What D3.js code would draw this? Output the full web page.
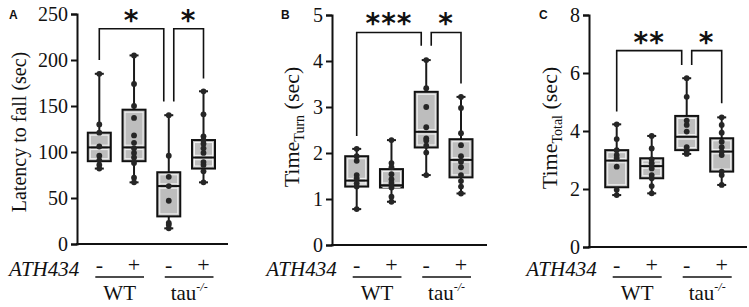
<!DOCTYPE html>
<html>
<head>
<meta charset="utf-8">
<script src="https://cdn.jsdelivr.net/npm/d3@7"></script>
<style>
  body { margin: 0; background: #fff; }
</style>
</head>
<body>
<script>
let width = 749;
let height = 307;
let serif = "'Liberation Serif', 'Times New Roman', serif";

// groups along the x axis
let treatment = ["-", "+", "-", "+"];
let genotype = ["WT", "tau"];

// panel A: latency to fall (sec)
let latencyTicks = [0, 50, 100, 150, 200, 250];
let latencyBox = [  // min, q1, median, q3, max
  [82, 90, 105, 121, 185],
  [67, 90, 105, 146, 205],
  [17, 30, 63, 78, 140],
  [67, 82, 94, 113, 166]
];
let latencyPoints = [
  [185, 130, 121, 106, 96, 91, 86, 82],
  [205, 174, 150, 137, 118, 110, 104, 99, 94, 88, 72, 67],
  [140, 96, 73, 63, 47, 23, 21, 17],
  [166, 141, 117, 113, 109, 104, 99, 89, 86, 79, 67]
];
let latencySig = ["*", "*"];

// panel B: time turn (sec)
let turnTicks = [0, 1, 2, 3, 4, 5];
let turnBox = [
  [0.78, 1.27, 1.40, 1.93, 2.09],
  [0.94, 1.25, 1.30, 1.65, 2.28],
  [1.52, 2.12, 2.46, 3.33, 4.02],
  [1.12, 1.47, 1.85, 2.30, 3.22]
];
let turnPoints = [
  [2.09, 1.93, 1.83, 1.52, 1.45, 1.34, 1.27, 0.78],
  [2.28, 1.78, 1.69, 1.54, 1.43, 1.35, 1.25, 1.05, 0.94],
  [4.02, 3.41, 3.00, 2.56, 2.32, 2.27, 2.16, 2.01, 1.52],
  [3.22, 2.98, 2.43, 2.17, 1.93, 1.81, 1.69, 1.52, 1.39, 1.27, 1.12]
];
let turnSig = ["***", "*"];

// panel C: time total (sec)
let totalTicks = [0, 2, 4, 6, 8];
let totalBox = [
  [1.79, 2.06, 2.98, 3.34, 4.23],
  [1.85, 2.37, 2.79, 3.06, 3.83],
  [3.21, 3.34, 3.80, 4.52, 5.82],
  [2.14, 2.60, 3.29, 3.75, 4.47]
];
let totalPoints = [
  [4.23, 3.72, 3.34, 3.17, 3.06, 2.77, 1.97, 1.79],
  [3.83, 3.40, 3.02, 2.89, 2.71, 2.48, 2.37, 2.10, 1.85],
  [5.82, 5.18, 4.36, 4.21, 3.98, 3.44, 3.29, 3.21],
  [4.47, 4.21, 3.94, 3.63, 3.44, 3.29, 3.17, 2.60, 2.48, 2.14]
];
let totalSig = ["**", "*"];

// bracket heights in data units: [top, leg over group 1, legs over group 3, leg over group 4]
let latencyBracket = [234, 200, 155, 180];
let turnBracket = [4.62, 2.37, 4.33, 3.51];
let totalBracket = [6.77, 4.67, 6.28, 4.96];

let svg = d3.select("body").append("svg")
            .attr("width", width)
            .attr("height", height);

let panels = [
  { letter: "A", axisX: 77, axisEnd: 228, first: 99.3, last: 203.5, y0: 244, y1: 14,
    ticks: latencyTicks, box: latencyBox, points: latencyPoints, sig: latencySig, bracket: latencyBracket,
    label: ["Latency to fall (sec)"], labelX: 26, labelY: 132, letterX: 9 },
  { letter: "B", axisX: 332, axisEnd: 487, first: 356.7, last: 461, y0: 245, y1: 15,
    ticks: turnTicks, box: turnBox, points: turnPoints, sig: turnSig, bracket: turnBracket,
    label: ["Time", "Turn", " (sec)"], labelX: 299, labelY: 127, letterX: 281 },
  { letter: "C", axisX: 589, axisEnd: 747, first: 616.7, last: 721.7, y0: 247, y1: 15,
    ticks: totalTicks, box: totalBox, points: totalPoints, sig: totalSig, bracket: totalBracket,
    label: ["Time", "Total", " (sec)"], labelX: 557, labelY: 128, letterX: 539 }
];

panels.forEach(function(p) {
  let g = svg.append("g");
  let x = d3.scalePoint().domain(d3.range(4)).range([p.first, p.last]);
  let y = d3.scaleLinear()
            .domain([0, d3.max(p.ticks)])
            .range([p.y0, p.y1]);

  // y axis
  let yAxis = g.append("g")
               .attr("transform", "translate(" + p.axisX + ",0)")
               .call(d3.axisLeft(y).tickValues(p.ticks).tickSize(6).tickPadding(3).tickFormat(d3.format("d")));
  yAxis.select(".domain").attr("stroke", "#111").attr("stroke-width", 2);
  yAxis.selectAll(".tick line").attr("stroke", "#111").attr("stroke-width", 2);
  yAxis.selectAll(".tick text")
       .style("font-family", serif)
       .style("font-size", "20px")
       .attr("dy", "0.34em")
       .attr("fill", "#111");

  // x axis line
  g.append("line")
   .attr("x1", p.axisX - 1).attr("x2", p.axisEnd)
   .attr("y1", y(0)).attr("y2", y(0))
   .attr("stroke", "#111").attr("stroke-width", 2);

  let half = 11.5;

  // whiskers
  g.selectAll(".whisker").data(p.box).enter().append("line")
   .attr("x1", (d, i) => x(i)).attr("x2", (d, i) => x(i))
   .attr("y1", d => y(d[0])).attr("y2", d => y(d[4]))
   .attr("stroke", "#1a1a1a").attr("stroke-width", 2);
  [0, 4].forEach(function(k) {
    g.selectAll(".cap" + k).data(p.box).enter().append("line")
     .attr("x1", (d, i) => x(i) - 4.5).attr("x2", (d, i) => x(i) + 4.5)
     .attr("y1", d => y(d[k])).attr("y2", d => y(d[k]))
     .attr("stroke", "#1a1a1a").attr("stroke-width", 2);
  });

  // boxes
  g.selectAll(".box").data(p.box).enter().append("rect")
   .attr("x", (d, i) => x(i) - half)
   .attr("y", d => y(d[3]))
   .attr("width", half * 2)
   .attr("height", d => y(d[1]) - y(d[3]))
   .attr("fill", "#bdbdbd")
   .attr("stroke", "#111").attr("stroke-width", 2);
  g.selectAll(".inner").data(p.box).enter().append("rect")
   .attr("x", (d, i) => x(i) - half + 2.5)
   .attr("y", d => y(d[3]) + 2.5)
   .attr("width", half * 2 - 5)
   .attr("height", d => Math.max(0, y(d[1]) - y(d[3]) - 5))
   .attr("fill", "none")
   .attr("stroke", "#f4f4f4").attr("stroke-width", 1);
  [-2.2, 2.2].forEach(function(off) {
    g.selectAll(".medw").data(p.box).enter().append("line")
     .attr("x1", (d, i) => x(i) - half + 2.5).attr("x2", (d, i) => x(i) + half - 2.5)
     .attr("y1", d => y(d[2]) + off).attr("y2", d => y(d[2]) + off)
     .attr("stroke", "#f4f4f4").attr("stroke-width", 1);
  });
  g.selectAll(".median").data(p.box).enter().append("line")
   .attr("x1", (d, i) => x(i) - half).attr("x2", (d, i) => x(i) + half)
   .attr("y1", d => y(d[2])).attr("y2", d => y(d[2]))
   .attr("stroke", "#111").attr("stroke-width", 2);

  // points
  p.points.forEach(function(vals, i) {
    g.selectAll(".pt" + i).data(vals).enter().append("circle")
     .attr("cx", x(i))
     .attr("cy", d => y(d))
     .attr("r", 2.9)
     .attr("fill", "#262626");
  });

  // significance brackets
  let b = p.bracket;
  let bx = [x(0), x(2) - 5, x(2) + 5, x(3)];
  let top = y(b[0]);
  g.append("path")
   .attr("d", "M" + bx[0] + "," + y(b[1]) + "V" + top + "H" + bx[1] + "V" + y(b[2]))
   .attr("fill", "none").attr("stroke", "#111").attr("stroke-width", 1.6);
  g.append("path")
   .attr("d", "M" + bx[2] + "," + y(b[2]) + "V" + top + "H" + bx[3] + "V" + y(b[3]))
   .attr("fill", "none").attr("stroke", "#111").attr("stroke-width", 1.6);
  [[bx[0], bx[1]], [bx[2], bx[3]]].forEach(function(pair, k) {
    g.append("text")
     .attr("x", (pair[0] + pair[1]) / 2)
     .attr("y", top + 1)
     .attr("text-anchor", "middle")
     .style("font-family", "'DejaVu Sans', sans-serif")
     .style("font-weight", "bold")
     .style("font-size", "28px")
     .style("letter-spacing", "1px")
     .style("fill", "#111")
     .text(p.sig[k]);
  });

  // panel letter
  g.append("text")
   .attr("x", p.letterX).attr("y", 19)
   .style("font-family", "'Liberation Sans', Arial, sans-serif")
   .style("font-weight", "bold")
   .style("font-size", "12px")
   .style("fill", "#111")
   .text(p.letter);

  // y label
  let lab = g.append("text")
   .attr("transform", "translate(" + p.labelX + "," + p.labelY + ") rotate(-90)")
   .attr("text-anchor", "middle")
   .style("font-family", serif)
   .style("font-size", p.label.length > 1 ? "22px" : "20px")
   .style("fill", "#111");
  lab.append("tspan").text(p.label[0]);
  if (p.label.length > 1) {
    lab.append("tspan").attr("dy", 5).style("font-size", "14px").text(p.label[1]);
    lab.append("tspan").attr("dy", -5).text(p.label[2]);
  }

  // treatment row
  let rowY = 272;
  g.append("text")
   .attr("x", x(0) - 20).attr("y", rowY + 4)
   .attr("text-anchor", "end")
   .style("font-family", serif)
   .style("font-style", "italic")
   .style("font-size", "21px")
   .style("fill", "#111")
   .text("ATH434");
  g.selectAll(".treat").data(treatment).enter().append("text")
   .attr("x", (d, i) => x(i)).attr("y", rowY)
   .attr("text-anchor", "middle")
   .style("font-family", serif)
   .style("font-size", "22px")
   .style("fill", "#111")
   .text(d => d);

  // genotype lines and labels
  genotype.forEach(function(gt, k) {
    let a = x(2 * k) - 4, c = x(2 * k + 1) + 10;
    g.append("line")
     .attr("x1", a).attr("x2", c)
     .attr("y1", 277).attr("y2", 277)
     .attr("stroke", "#111").attr("stroke-width", 1.5);
    let t = g.append("text")
     .attr("x", (a + c) / 2).attr("y", 300)
     .attr("text-anchor", "middle")
     .style("font-family", serif)
     .style("font-size", "21px")
     .style("fill", "#111");
    t.append("tspan").text(gt);
    if (gt === "tau") {
      t.append("tspan").attr("dy", -9).style("font-size", "12px").style("font-style", "italic").text("-/-");
    }
  });
});
</script>
</body>
</html>
